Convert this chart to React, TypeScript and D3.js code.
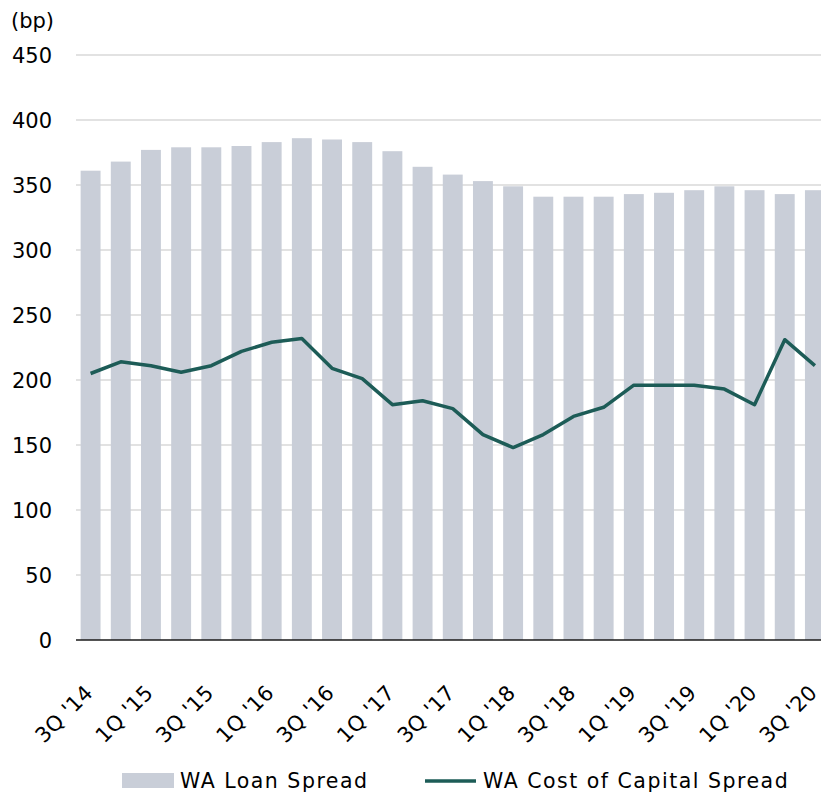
import React from "react";
import * as d3 from "d3";

const categories = [
  "3Q '14", "4Q '14", "1Q '15", "2Q '15", "3Q '15", "4Q '15", "1Q '16", "2Q '16", "3Q '16", "4Q '16",
  "1Q '17", "2Q '17", "3Q '17", "4Q '17", "1Q '18", "2Q '18", "3Q '18", "4Q '18", "1Q '19", "2Q '19",
  "3Q '19", "4Q '19", "1Q '20", "2Q '20", "3Q '20",
];
const loanSpread = [361, 368, 377, 379, 379, 380, 383, 386, 385, 383, 376, 364, 358, 353, 349, 341, 341, 341, 343, 344, 346, 349, 346, 343, 346];
const costOfCapital = [205, 214, 211, 206, 211, 222, 229, 232, 209, 201, 181, 184, 178, 158, 148, 158, 172, 179, 196, 196, 196, 193, 181, 231, 211];
const yTicks = [0, 50, 100, 150, 200, 250, 300, 350, 400, 450];
const xLabels = categories.filter((_, i) => i % 2 === 0);
const legendItems = ["WA Loan Spread", "WA Cost of Capital Spread"];

const BAR = "#c9ced8";
const LINE = "#1d5c57";
const FONT = "'DejaVu Sans', Verdana, sans-serif";

export default function App() {
  const W = 821, H = 796;
  const x = d3.scaleBand<string>().domain(categories).range([75.5, 830]).paddingInner(0.34).paddingOuter(0.17);
  const y = d3.scaleLinear().domain([0, 450]).range([640, 55]);
  const cx = (c: string) => (x(c) as number) + x.bandwidth() / 2;
  const line = d3.line<number>().x((_, i) => cx(categories[i])).y((v) => y(v));

  return (
    <svg width={W} height={H} style={{ position: "absolute", left: 0, top: 0 }} fontFamily={FONT}>
      <rect width={W} height={H} fill="#fff" />
      {yTicks.filter((t) => t > 0).map((t) => (
        <line key={t} x1={76} x2={W} y1={y(t)} y2={y(t)} stroke="#d9d9d9" strokeWidth={1.5} />
      ))}
      {categories.map((c, i) => (
        <rect key={c} x={x(c)} y={y(loanSpread[i])} width={x.bandwidth()} height={y(0) - y(loanSpread[i])} fill={BAR} />
      ))}
      <line x1={76} x2={W} y1={y(0)} y2={y(0)} stroke="#1a1a1a" strokeWidth={1.5} />
      <path d={line(costOfCapital) as string} fill="none" stroke={LINE} strokeWidth={3.5} strokeLinejoin="round" />
      {yTicks.map((t) => (
        <text key={t} x={52} y={y(t)} dy="0.36em" textAnchor="end" fontSize={21} fill="#000">{t}</text>
      ))}
      <text x={11} y={20} dy="0.36em" fontSize={21} fill="#000">(bp)</text>
      {xLabels.map((c) => (
        <text key={c} transform={`translate(${cx(c) + 3.5},${694}) rotate(-45)`} textAnchor="end" fontSize={21} letterSpacing={0.3} fill="#000">{c}</text>
      ))}
      <rect x={122} y={773} width={52} height={15} fill={BAR} />
      <text x={180} y={781} dy="0.36em" fontSize={20.5} letterSpacing={1.5} fill="#000">{legendItems[0]}</text>
      <line x1={425} x2={476} y1={781} y2={781} stroke={LINE} strokeWidth={3.5} />
      <text x={483} y={781} dy="0.36em" fontSize={20.5} letterSpacing={1.5} fill="#000">{legendItems[1]}</text>
    </svg>
  );
}
